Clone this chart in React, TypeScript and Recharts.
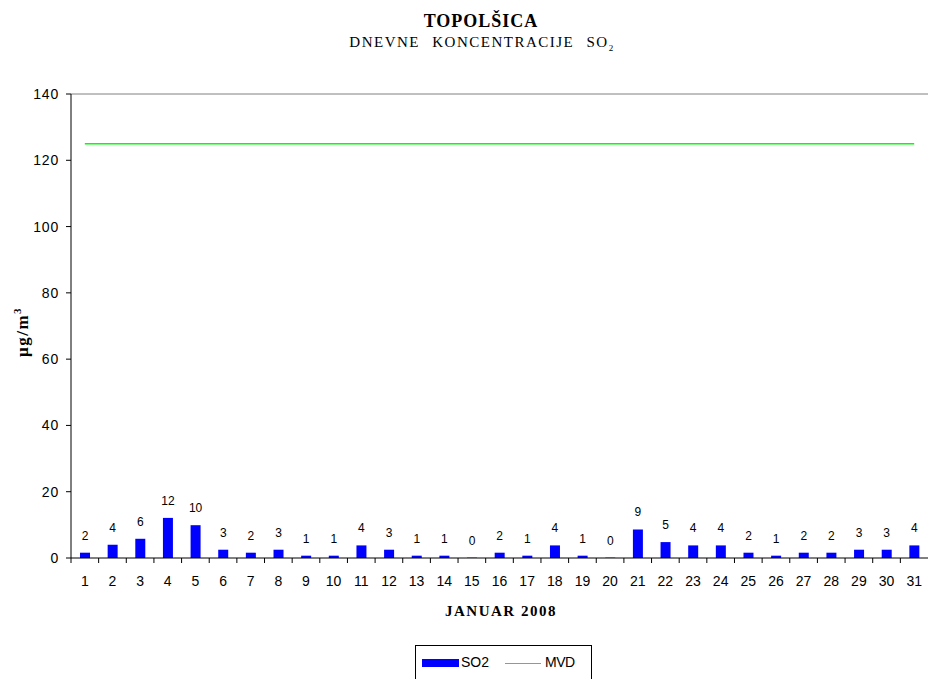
import React from 'react';
import { ComposedChart, Bar, Line, XAxis, YAxis, LabelList, ReferenceLine } from 'recharts';

const days = ['1', '2', '3', '4', '5', '6', '7', '8', '9', '10', '11', '12', '13', '14', '15', '16',
  '17', '18', '19', '20', '21', '22', '23', '24', '25', '26', '27', '28', '29', '30', '31'];
const so2 = [1.6, 4.0, 5.8, 12.1, 9.9, 2.5, 1.6, 2.5, 0.7, 0.7, 3.8, 2.5, 0.7, 0.7, 0.1, 1.6,
  0.7, 3.8, 0.7, 0.1, 8.6, 4.8, 3.8, 3.8, 1.6, 0.7, 1.6, 1.6, 2.5, 2.5, 3.8];
const mvdLimit = 125;
const yTicks = [0, 20, 40, 60, 80, 100, 120, 140];

const data = days.map((d, i) => ({ day: d, so2: so2[i], mvd: mvdLimit }));

const CHART_W = 928;
const Y_AXIS_W = 71;
const HALF_BAND = (CHART_W - Y_AXIS_W) / days.length / 2;

const sans = '"Liberation Sans", Arial, sans-serif';
const serif = '"Liberation Serif", "Times New Roman", serif';

// Excel style: tick marks sit between categories, labels in the middle
const XTick = (props: any) => {
  const { x, y, payload } = props;
  return (
    <g>
      <line x1={x - HALF_BAND} x2={x - HALF_BAND} y1={y} y2={y + 5} stroke="#000" />
      <text x={x} y={y + 28} textAnchor="middle" fontFamily={sans} fontSize={14} fill="#000">
        {payload.value}
      </text>
    </g>
  );
};

const LegendBox = () => (
  <div style={{
    position: 'absolute', left: 415, top: 645, width: 177, height: 40, border: '1px solid #000',
    boxSizing: 'border-box', background: '#fff', fontFamily: sans, fontSize: 14,
  }}>
    <span style={{ position: 'absolute', left: 6, top: 13, width: 37, height: 8, background: '#0000ff' }} />
    <span style={{ position: 'absolute', left: 45, top: 8 }}>SO2</span>
    <span style={{ position: 'absolute', left: 89, top: 17, width: 36, height: 1, background: '#00ff00' }} />
    <span style={{ position: 'absolute', left: 129, top: 8, letterSpacing: -0.5 }}>MVD</span>
  </div>
);

export default function App() {
  return (
    <div style={{ position: 'absolute', left: 0, top: 0, width: 928, height: 679, overflow: 'hidden', background: '#fff' }}>
      <div style={{ position: 'absolute', left: 0, width: 962, top: 11, textAlign: 'center', fontFamily: serif, fontWeight: 'bold', fontSize: 18, letterSpacing: 1 }}>
        TOPOLŠICA
      </div>
      <div style={{ position: 'absolute', left: 0, width: 964, top: 34, textAlign: 'center', fontFamily: serif, fontSize: 15, letterSpacing: 1.5, wordSpacing: 7 }}>
        DNEVNE KONCENTRACIJE SO<sub style={{ fontSize: 9 }}>2</sub>
      </div>
      <div style={{ position: 'absolute', left: 430, width: 142, top: 603, textAlign: 'center', fontFamily: serif, fontWeight: 'bold', fontSize: 15, letterSpacing: 1.5 }}>
        JANUAR 2008
      </div>
      <div style={{
        position: 'absolute', left: 17 - 50, top: 332 - 11, width: 100, height: 22, lineHeight: '22px', textAlign: 'center',
        transform: 'rotate(-90deg)', transformOrigin: '50px 11px',
        fontFamily: serif, fontWeight: 'bold', fontSize: 17, letterSpacing: 1.5,
      }}>
        µg/m<sup style={{ fontSize: 11 }}>3</sup>
      </div>
      <ComposedChart width={CHART_W} height={679} data={data} margin={{ top: 94, right: 0, bottom: 91, left: 0 }}>
        <XAxis dataKey="day" interval={0} tickSize={0} tickMargin={0} tickLine={false}
          axisLine={{ stroke: '#000' }} tick={<XTick />} height={30} />
        <YAxis width={Y_AXIS_W} domain={[0, 140]} ticks={yTicks} interval={0} tickSize={5} tickMargin={7}
          axisLine={{ stroke: '#000' }} tickLine={{ stroke: '#000' }}
          tick={{ fontFamily: sans, fontSize: 14, fill: '#000', letterSpacing: 0.8 }} />
        <ReferenceLine y={140} stroke="#808080" />
        <Bar dataKey="so2" name="SO2" fill="#0000ff" barSize={10} isAnimationActive={false}>
          <LabelList dataKey="so2" position="top" offset={13} formatter={(v: any) => Math.round(Number(v))}
            style={{ fontFamily: sans, fontSize: 12, fill: '#000' }} />
        </Bar>
        <Line dataKey="mvd" name="MVD" stroke="#00ff00" strokeWidth={1.4} dot={false} activeDot={false}
          isAnimationActive={false} />
      </ComposedChart>
      <LegendBox />
    </div>
  );
}
